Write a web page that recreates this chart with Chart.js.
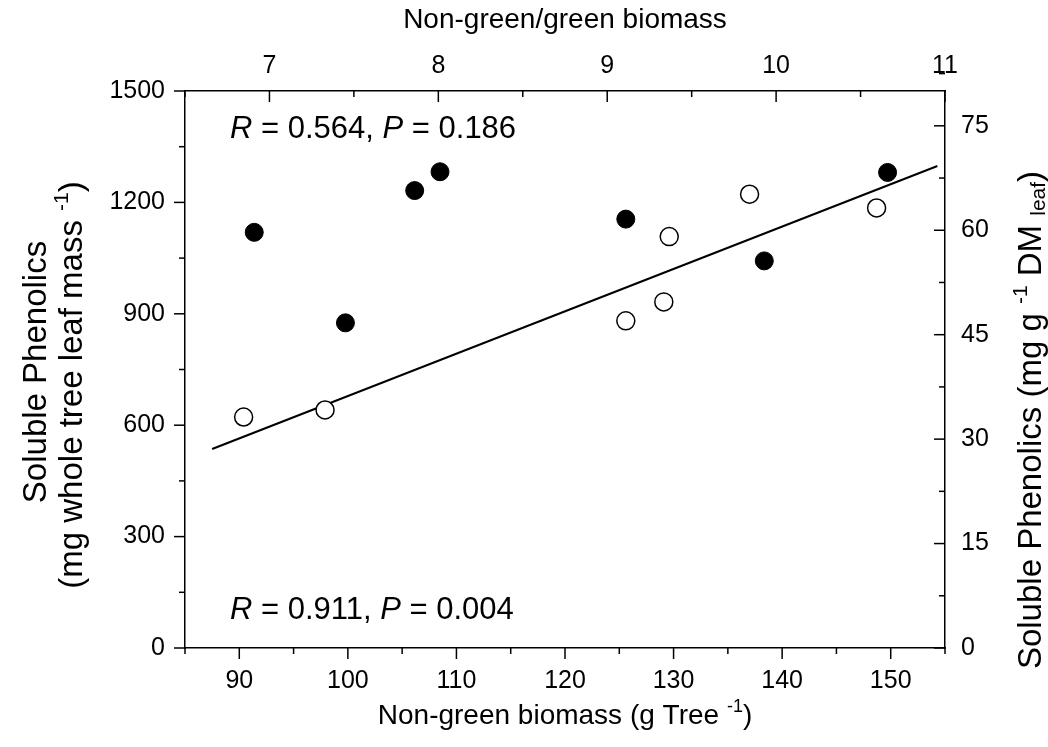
<!DOCTYPE html>
<html>
<head>
<meta charset="utf-8">
<script src="https://cdn.jsdelivr.net/npm/chart.js@4"></script>
<style>
  body { margin: 0; background: #fff; }
  #wrap { width: 1048px; height: 747px; }
</style>
</head>
<body>
<div id="wrap"><canvas id="chart" width="1048" height="747"></canvas></div>
<script>
// non-green/green ratio (top axis) vs phenolics per leaf dry mass (right axis)
const ratioValues = [6.91, 7.45, 7.86, 8.01, 9.11, 9.93, 10.66];
const phenolicsPerDM = [59.7, 46.7, 65.7, 68.4, 61.6, 55.6, 68.3];

// non-green biomass (bottom axis) vs phenolics per whole tree (left axis)
const biomassValues = [90.4, 97.9, 125.6, 129.1, 129.6, 137.0, 148.7];
const phenolicsPerTree = [622, 641, 881, 932, 1108, 1222, 1185];

// regression line end points (bottom/left axes)
const fitX = [87.5, 154.3];
const fitY = [536, 1298];

const bottomTicks = [90, 100, 110, 120, 130, 140, 150];
const topTicks = [7, 8, 9, 10, 11];
const leftTicks = [0, 300, 600, 900, 1200, 1500];
const rightTicks = [0, 15, 30, 45, 60, 75];

const FONT = '"Liberation Sans", Arial, sans-serif';

function fontOf(p) {
    return (p.italic ? 'italic ' : '') + p.size + 'px ' + FONT;
}

// draws a run of text pieces (super/subscripts via dy), optionally rotated
function drawRich(ctx, parts, x, y, angle, align) {
    ctx.save();
    ctx.translate(x, y);
    ctx.rotate(angle);
    ctx.fillStyle = '#000';
    ctx.textBaseline = 'alphabetic';
    ctx.textAlign = 'left';
    let total = 0;
    parts.forEach(p => {
        ctx.font = fontOf(p);
        p.w = ctx.measureText(p.text).width;
        total += p.w;
    });
    let cx = align === 'left' ? 0 : -total / 2;
    parts.forEach(p => {
        ctx.font = fontOf(p);
        ctx.fillText(p.text, cx, p.dy || 0);
        cx += p.w;
    });
    ctx.restore();
}

// major + minor tick marks; top and right ones point into the plot
function drawAxisTicks(ctx, scale, majors, minorStep, side) {
    const area = scale.chart.chartArea;
    const n = Math.round((scale.max - scale.min) / minorStep);
    for (let i = 0; i <= n; i++) {
        const v = scale.min + i * minorStep;
        const isMajor = majors.some(m => Math.abs(m - v) < 1e-6);
        const len = isMajor ? 11 : 6;
        const p = scale.getPixelForValue(v);
        ctx.beginPath();
        if (side === 'bottom') { ctx.moveTo(p, area.bottom); ctx.lineTo(p, area.bottom + len); }
        if (side === 'top') { ctx.moveTo(p, area.top); ctx.lineTo(p, area.top + len); }
        if (side === 'left') { ctx.moveTo(area.left, p); ctx.lineTo(area.left - len, p); }
        if (side === 'right') { ctx.moveTo(area.right, p); ctx.lineTo(area.right - len, p); }
        ctx.stroke();
    }
}

const tickMarks = {
    id: 'tickMarks',
    afterDraw(chart) {
        const ctx = chart.ctx;
        const s = chart.scales;
        ctx.save();
        ctx.strokeStyle = '#000';
        ctx.lineWidth = 1.5;
        drawAxisTicks(ctx, s.x, bottomTicks, 5, 'bottom');
        drawAxisTicks(ctx, s.x2, topTicks, 0.5, 'top');
        drawAxisTicks(ctx, s.y, leftTicks, 150, 'left');
        drawAxisTicks(ctx, s.y2, rightTicks, 7.5, 'right');
        ctx.restore();
    }
};

const axisText = {
    id: 'axisText',
    afterDraw(chart) {
        const ctx = chart.ctx;
        const a = chart.chartArea;
        const cx = (a.left + a.right) / 2;
        const up = -Math.PI / 2;

        drawRich(ctx, [{ text: 'Non-green/green biomass', size: 28 }], cx, 28, 0);
        drawRich(ctx, [
            { text: 'Non-green biomass (g Tree ', size: 28 },
            { text: '-1', size: 18, dy: -12 },
            { text: ')', size: 28 }
        ], cx, 724, 0);

        drawRich(ctx, [{ text: 'Soluble Phenolics', size: 33 }], 46, 372, up);
        drawRich(ctx, [
            { text: '(mg whole tree leaf mass ', size: 33 },
            { text: '-1', size: 21, dy: -14 },
            { text: ')', size: 33 }
        ], 82, 385, up);

        drawRich(ctx, [
            { text: 'Soluble Phenolics (mg g ', size: 33 },
            { text: '-1', size: 21, dy: -14 },
            { text: ' DM ', size: 33 },
            { text: 'leaf', size: 21, dy: 4 },
            { text: ')', size: 33 }
        ], 1041, 420, up);

        drawRich(ctx, [
            { text: 'R', size: 31, italic: true },
            { text: ' = 0.564, ', size: 31 },
            { text: 'P', size: 31, italic: true },
            { text: ' = 0.186', size: 31 }
        ], 230, 138, 0, 'left');
        drawRich(ctx, [
            { text: 'R', size: 31, italic: true },
            { text: ' = 0.911, ', size: 31 },
            { text: 'P', size: 31, italic: true },
            { text: ' = 0.004', size: 31 }
        ], 230, 619, 0, 'left');
    }
};

function axis(position, min, max, majors, padding, fit) {
    return {
        type: 'linear',
        position: position,
        min: min,
        max: max,
        grid: { display: false, drawTicks: false },
        border: { display: true, color: '#000', width: 1.5 },
        ticks: {
            color: '#000',
            font: { size: 25, family: FONT },
            padding: padding,
            autoSkip: false,
            maxRotation: 0,
            callback: v => String(v)
        },
        afterBuildTicks: s => { s.ticks = majors.map(v => ({ value: v })); },
        afterFit: fit
    };
}

new Chart(document.getElementById('chart'), {
    type: 'scatter',
    data: {
        datasets: [
            {
                label: 'ratio',
                data: ratioValues.map((v, i) => ({ x: v, y: phenolicsPerDM[i] })),
                xAxisID: 'x2',
                yAxisID: 'y2',
                pointRadius: 9,
                pointBackgroundColor: '#000',
                pointBorderColor: '#000',
                pointBorderWidth: 1
            },
            {
                label: 'biomass',
                data: biomassValues.map((v, i) => ({ x: v, y: phenolicsPerTree[i] })),
                xAxisID: 'x',
                yAxisID: 'y',
                pointRadius: 9,
                pointBackgroundColor: '#fff',
                pointBorderColor: '#000',
                pointBorderWidth: 1.5
            },
            {
                type: 'line',
                label: 'fit',
                data: fitX.map((v, i) => ({ x: v, y: fitY[i] })),
                xAxisID: 'x',
                yAxisID: 'y',
                borderColor: '#000',
                borderWidth: 2,
                pointRadius: 0,
                fill: false,
                tension: 0
            }
        ]
    },
    options: {
        responsive: false,
        animation: false,
        layout: { padding: 0 },
        plugins: {
            legend: { display: false },
            tooltip: { enabled: false }
        },
        scales: {
            x: axis('bottom', 85, 155, bottomTicks, 18, s => { s.height = 99; }),
            x2: axis('top', 6.5, 11, topTicks, 10, s => { s.height = 91; }),
            y: axis('left', 0, 1500, leftTicks, 20, s => { s.width = 185; }),
            y2: axis('right', 0, 80, rightTicks, 16, s => { s.width = 103; })
        }
    },
    plugins: [tickMarks, axisText]
});
</script>
</body>
</html>
